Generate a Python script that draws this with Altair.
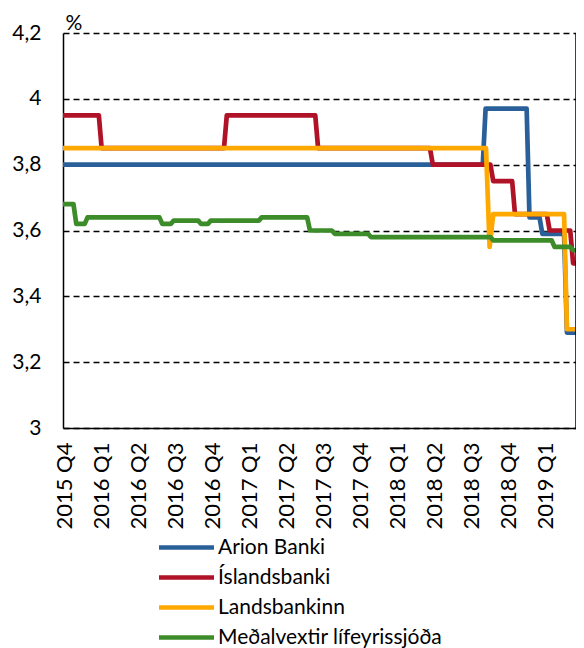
import altair as alt
import pandas as pd

series_names = ["Arion Banki", "Íslandsbanki", "Landsbankinn", "Meðalvextir lífeyrissjóða"]
series_colors = ["#2A6099", "#B01228", "#FFA800", "#3C8C2A"]

quarter_labels = ["2015 Q4", "2016 Q1", "2016 Q2", "2016 Q3", "2016 Q4", "2017 Q1", "2017 Q2",
                  "2017 Q3", "2017 Q4", "2018 Q1", "2018 Q2", "2018 Q3", "2018 Q4", "2019 Q1"]
y_ticks = [3.0, 3.2, 3.4, 3.6, 3.8, 4.0, 4.2]

arion_dates = ["2015-09-27", "2018-07-28", "2018-08-04", "2018-11-14", "2018-11-21",
               "2018-12-16", "2018-12-23", "2019-02-14", "2019-02-21", "2019-03-15"]
arion_vals = [3.80, 3.80, 3.97, 3.97, 3.64, 3.64, 3.59, 3.59, 3.29, 3.29]

isl_dates = ["2015-09-27", "2015-12-25", "2016-01-01", "2016-10-29", "2016-11-05", "2017-06-10",
             "2017-06-17", "2018-03-20", "2018-03-27", "2018-08-16", "2018-08-23", "2018-10-09",
             "2018-10-16", "2019-01-03", "2019-01-10", "2019-03-01", "2019-03-08", "2019-03-15"]
isl_vals = [3.95, 3.95, 3.85, 3.85, 3.95, 3.95, 3.85, 3.85, 3.80, 3.80, 3.75, 3.75,
            3.65, 3.65, 3.60, 3.60, 3.50, 3.50]

lands_dates = ["2015-09-27", "2018-08-05", "2018-08-14", "2018-08-23", "2019-02-14",
               "2019-02-21", "2019-03-15"]
lands_vals = [3.85, 3.85, 3.55, 3.65, 3.65, 3.30, 3.30]

lif_dates = ["2015-09-27", "2015-10-23", "2015-10-30", "2015-11-20", "2015-11-27", "2016-05-22",
             "2016-05-29", "2016-06-19", "2016-06-26", "2016-08-26", "2016-09-02", "2016-09-19",
             "2016-09-26", "2017-01-23", "2017-01-30", "2017-05-21", "2017-05-28", "2017-07-21",
             "2017-07-28", "2017-10-19", "2017-10-26", "2018-08-16", "2018-08-23", "2019-01-15",
             "2019-01-22", "2019-03-01", "2019-03-08", "2019-03-15"]
lif_vals = [3.68, 3.68, 3.62, 3.62, 3.64, 3.64, 3.62, 3.62, 3.63, 3.63, 3.62, 3.62,
            3.63, 3.63, 3.64, 3.64, 3.60, 3.60, 3.59, 3.59, 3.58, 3.58, 3.57, 3.57,
            3.55, 3.55, 3.54, 3.54]


def qpos(s):
    """Position in quarters, 0 = start of 2015 Q4."""
    d = pd.Timestamp(s)
    qi = (d.year - 2015) * 4 + (d.month - 1) // 3 - 3
    qstart = pd.Timestamp(year=d.year, month=((d.month - 1) // 3) * 3 + 1, day=1)
    qend = qstart + pd.DateOffset(months=3)
    return qi + (d - qstart).days / (qend - qstart).days


rows = []
for name, dates, vals in zip(series_names,
                             [arion_dates, isl_dates, lands_dates, lif_dates],
                             [arion_vals, isl_vals, lands_vals, lif_vals]):
    for d, v in zip(dates, vals):
        rows.append({"series": name, "q": qpos(d), "value": v})
df = pd.DataFrame(rows)

x_domain = [qpos("2015-09-27"), qpos("2019-03-15")]
label_expr = "[" + ",".join("'%s'" % l for l in quarter_labels) + "][datum.value]"

FONT = "Lato"
FS = 21
W, H = 513, 395

base = alt.Chart(df).mark_line(strokeWidth=4.7, strokeJoin="round", clip=True).encode(
    x=alt.X("q:Q",
            scale=alt.Scale(domain=x_domain, nice=False, zero=False),
            axis=alt.Axis(values=list(range(len(quarter_labels))), labelExpr=label_expr,
                          labelAngle=-90, title=None, grid=False, ticks=False, tickSize=0,
                          labelPadding=14, domainColor="black", domainWidth=1.5,
                          labelFont=FONT, labelFontSize=22, labelColor="black")),
    y=alt.Y("value:Q",
            scale=alt.Scale(domain=[3, 4.2], nice=False, zero=False),
            axis=alt.Axis(values=y_ticks,
                          labelExpr="replace(format(datum.value, '~g'), '.', ',')",
                          title="%", titleAngle=0, titleX=2, titleY=-4, titleAlign="left",
                          titleBaseline="alphabetic", titleFont=FONT, titleFontSize=FS,
                          titleFontWeight="normal", titleColor="black",
                          grid=True, gridDash=[6, 4], gridColor="black", gridWidth=1.5,
                          gridOpacity=1, ticks=False, tickSize=0, labelPadding=22,
                          domainColor="black", domainWidth=1.5,
                          labelFont=FONT, labelFontSize=FS, labelColor="black")),
    color=alt.Color("series:N",
                    scale=alt.Scale(domain=series_names, range=series_colors),
                    legend=alt.Legend(title=None, orient="none", legendX=113, legendY=504,
                                      direction="vertical", symbolType="M-5.5,0L5.5,0",
                                      symbolSize=100, symbolStrokeWidth=4.7,
                                      labelOffset=21, labelFont=FONT, labelFontSize=FS,
                                      labelColor="black", labelLimit=400,
                                      rowPadding=8, padding=0)),
)

layers = [base.transform_filter(alt.datum.series == n) for n in series_names]

right_border = alt.Chart(pd.DataFrame({"k": [0]})).mark_rule(color="black", strokeWidth=1.5).encode(
    x=alt.value(W), y=alt.value(0), y2=alt.value(H))

chart = alt.layer(*layers, right_border).properties(
    width=W, height=H,
    autosize=alt.AutoSizeParams(type="none"),
    padding={"left": 55, "top": 25, "right": 0, "bottom": 220},
    background="white",
).configure_view(stroke=None)

chart.save("out.html", embed_options={"renderer": "svg", "actions": False})
